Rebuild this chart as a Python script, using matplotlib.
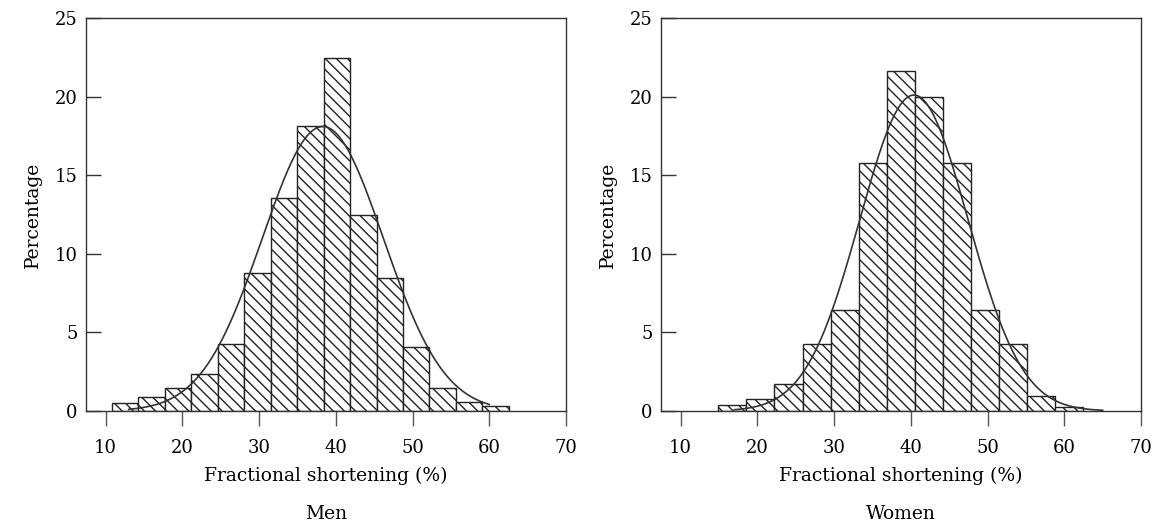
import numpy as np
import matplotlib
matplotlib.use("Agg")
import matplotlib.pyplot as plt

plt.rcParams['font.family'] = ['DejaVu Serif']
plt.rcParams['hatch.linewidth'] = 1.0

# histogram bins (fractional shortening, %)
men_edges = [10.8, 14.25, 17.7, 21.15, 24.6, 28.05, 31.5, 34.95, 38.4,
             41.85, 45.3, 48.75, 52.2, 55.65, 59.1, 62.55]
men_pct = [0.49, 0.87, 1.44, 2.35, 4.28, 8.81, 13.58, 18.14, 22.48,
           12.5, 8.43, 4.05, 1.44, 0.6, 0.3]

women_edges = [14.9, 18.56, 22.22, 25.88, 29.54, 33.2, 36.86, 40.52,
               44.18, 47.84, 51.5, 55.16, 58.82, 62.48]
women_pct = [0.35, 0.75, 1.7, 4.25, 6.4, 15.8, 21.65, 19.95, 15.75,
             6.45, 4.25, 0.95, 0.24]

# fitted normal curves: (peak %, mean, sd, x range)
men_fit = (18.1, 38.3, 7.9, 13.0, 60.0)
women_fit = (20.1, 40.4, 7.05, 17.0, 65.0)

panels = [("Men", men_edges, men_pct, men_fit),
          ("Women", women_edges, women_pct, women_fit)]

fig = plt.figure(figsize=(11.55, 5.24), dpi=100)
lefts = [86 / 1155, 661 / 1155]

for (name, edges, pct, fit), left in zip(panels, lefts):
    ax = fig.add_axes([left, 113 / 524, 480 / 1155, 393 / 524])
    edges = np.array(edges)
    ax.bar(edges[:-1], pct, width=np.diff(edges), align='edge',
           facecolor='white', edgecolor='#222222', linewidth=1.0,
           hatch='\\\\\\', zorder=2)

    peak, mu, sd, x0, x1 = fit
    xs = np.linspace(x0, x1, 300)
    ax.plot(xs, peak * np.exp(-0.5 * ((xs - mu) / sd) ** 2),
            color='#333333', lw=1.2, zorder=3)

    ax.set_xlim(7.43, 70)
    ax.set_ylim(0, 25)
    ax.set_xticks([10, 20, 30, 40, 50, 60, 70])
    ax.set_yticks([0, 5, 10, 15, 20, 25])
    ax.tick_params(axis='x', direction='out', length=11, width=1,
                   color='#555555', pad=9, labelsize=13)
    ax.tick_params(axis='y', direction='in', length=11, width=1,
                   color='#333333', pad=6, labelsize=13)
    for sp in ax.spines.values():
        sp.set_color('#333333')
        sp.set_linewidth(1.0)

    ax.set_xlabel("Fractional shortening (%)", fontsize=13.5, labelpad=7)
    ax.set_ylabel("Percentage", fontsize=13.5, labelpad=9)
    ax.text(0.5, -0.262, name, transform=ax.transAxes, ha='center',
            va='center', fontsize=13.5)

fig.savefig("out.png", dpi=100)
